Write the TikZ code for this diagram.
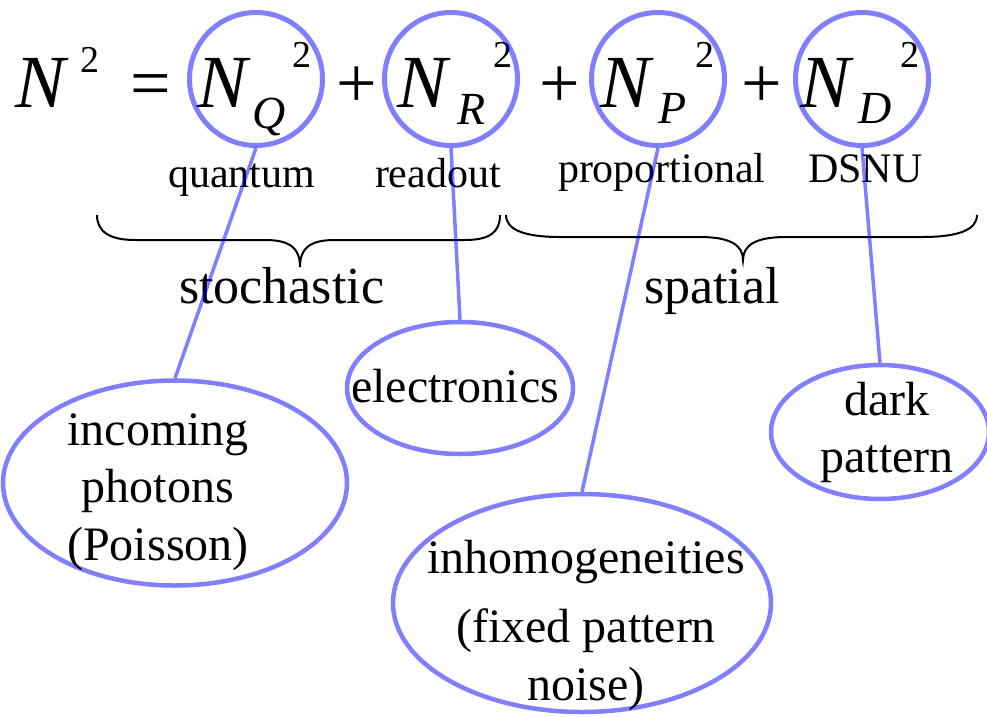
\documentclass[tikz,border=0pt]{standalone}
\usepackage{fontspec}
\setmainfont{Liberation Serif}
\usetikzlibrary{shapes.geometric}
\begin{document}
\begin{tikzpicture}[x=1pt,y=-1pt,
  txt/.style={inner sep=0pt,outer sep=0pt,anchor=base west,text=black},
  ctxt/.style={inner sep=0pt,outer sep=0pt,anchor=base,text=black,font=\fontsize{48}{57}\selectfont},
  bigN/.style={txt,font=\fontsize{75}{80}\selectfont\itshape},
  opsym/.style={txt,font=\fontsize{72}{80}\selectfont},
  subs/.style={txt,font=\fontsize{46}{50}\selectfont\itshape},
  sups/.style={txt,font=\fontsize{38}{40}\selectfont},
  lbl/.style={txt,font=\fontsize{42}{46}\selectfont},
  grp/.style={txt,font=\fontsize{52}{56}\selectfont},
  ring/.style={circle,draw=blue,draw opacity=0.5,line width=5pt,minimum size=133pt,inner sep=0pt},
  oval/.style={ellipse,draw=blue,draw opacity=0.5,line width=4.5pt,inner sep=0pt},
  conn/.style={draw=blue,draw opacity=0.5,line width=3.5pt},
  brace/.style={draw=black,line width=2pt}]
\useasboundingbox (0,0) rectangle (987,716);
% equation
\node[bigN] (n0) at (15,107) {N};
\node[sups] (s0) at (80,72) {2};
\node[opsym] (eq) at (130,107) {=};
\node[bigN] (nq) at (197,107) {N};
\node[subs] (q) at (252,128) {Q};
\node[sups] (sq) at (292,67) {2};
\node[opsym] (p1) at (336,107) {+};
\node[bigN] (nr) at (397,107) {N};
\node[subs] (r) at (457,124) {R};
\node[sups] (sr) at (493,67) {2};
\node[opsym] (p2) at (539,107) {+};
\node[bigN] (np) at (600,107) {N};
\node[subs] (pp) at (658,123) {P};
\node[sups] (sp) at (695,67) {2};
\node[opsym] (p3) at (741,107) {+};
\node[bigN] (nd) at (800,107) {N};
\node[subs] (d) at (858,123) {D};
\node[sups] (sd) at (900,67) {2};
% small labels
\node[lbl] (lq) at (168,187) {quantum};
\node[lbl] (lr) at (375,187) {readout};
\node[lbl] (lp) at (558,182) {proportional};
\node[lbl] (ld) at (808,182) {DSNU};
% braces
\draw[brace] (97,215) .. controls (97,232) and (110,240) .. (135,240) -- (265,240)
  .. controls (290,240) and (300,248) .. (300,267)
  .. controls (300,248) and (310,240) .. (335,240) -- (465,240)
  .. controls (490,240) and (500,232) .. (500,215);
\draw[brace] (506,215) .. controls (506,230) and (525,237) .. (560,237) -- (700,237)
  .. controls (730,237) and (743,245) .. (743,260)
  .. controls (743,245) and (756,237) .. (786,237) -- (922,237)
  .. controls (958,237) and (977,230) .. (977,215);
\node[grp] (sto) at (179,303) {stochastic};
\node[grp] (spa) at (644,303) {spatial};
% rings
\node[ring] (cq) at (256,79) {};
\node[ring] (cr) at (451,79) {};
\node[ring] (cp) at (658,79) {};
\node[ring] (cd) at (862,79) {};
% ovals
\node[oval,minimum width=344pt,minimum height=205pt] (inc) at (175,483) {};
\node[oval,minimum width=226pt,minimum height=132pt] (ele) at (460,388) {};
\node[oval,minimum width=378pt,minimum height=218pt] (inh) at (582,603) {};
\node[oval,minimum width=218pt,minimum height=134pt] (drk) at (880,432) {};
% oval texts
\node[ctxt] (t1) at (158,445) {incoming};
\node[ctxt] (t2) at (158,502) {photons};
\node[ctxt] (t3) at (158,560) {(Poisson)};
\node[ctxt] (t4) at (455,402) {electronics};
\node[ctxt] (t5) at (586,573) {inhomogeneities};
\node[ctxt] (t6) at (586,642) {(fixed pattern};
\node[ctxt] (t7) at (586,700) {noise)};
\node[ctxt] (t8) at (887,415) {dark};
\node[ctxt] (t9) at (887,472) {pattern};
% connectors
\draw[conn] (cq.south) -- (inc.north);
\draw[conn] (cr.south) -- (ele.north);
\draw[conn] (cp.south) -- (inh.north);
\draw[conn] (cd.south) -- (drk.north);
\end{tikzpicture}
\end{document}
